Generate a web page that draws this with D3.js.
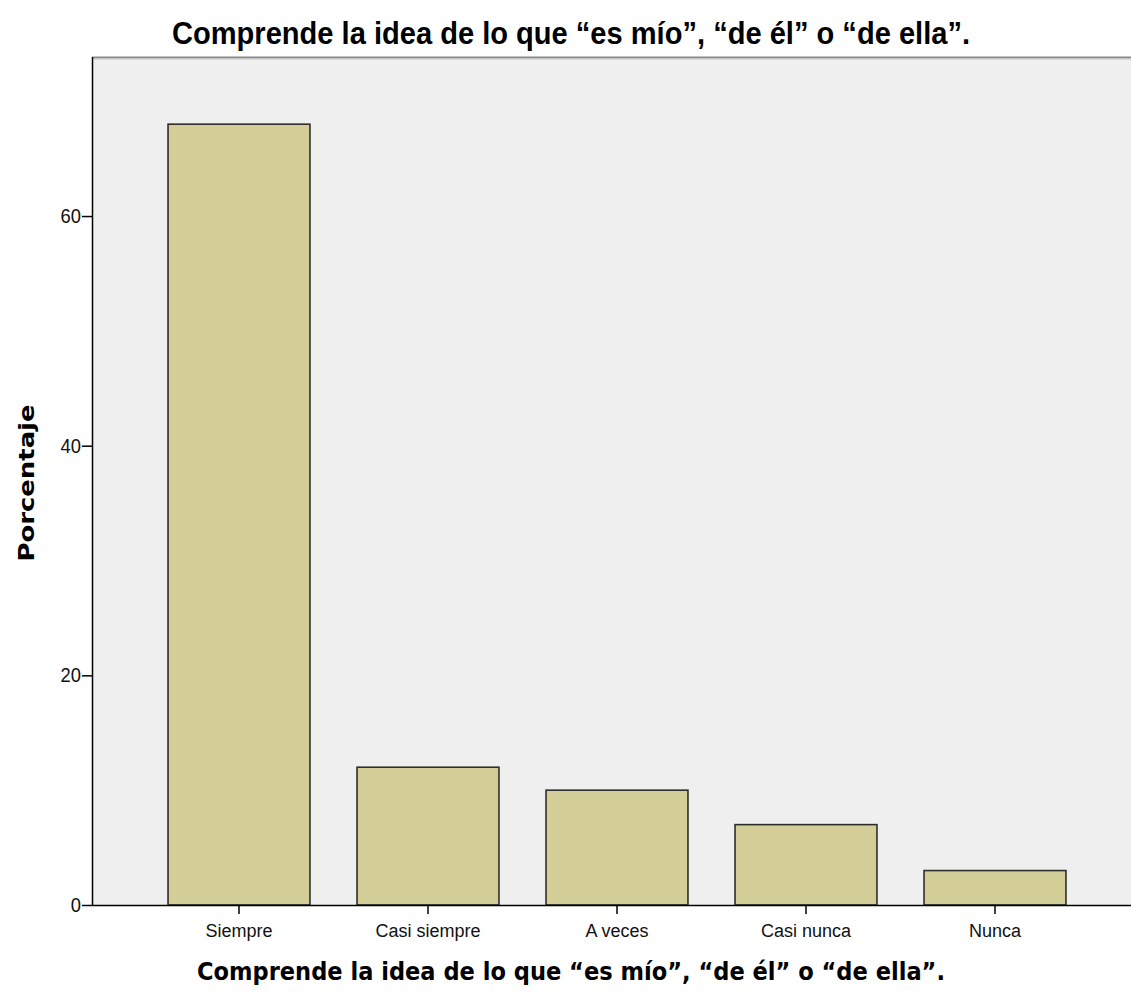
<!DOCTYPE html>
<html>
<head>
<meta charset="utf-8">
<script src="https://cdn.jsdelivr.net/npm/d3@7/dist/d3.min.js"></script>
<style>
  html, body { margin: 0; padding: 0; background: #ffffff; }
  svg { display: block; }
</style>
</head>
<body>
<script>
const categories = ["Siempre", "Casi siempre", "A veces", "Casi nunca", "Nunca"];
const values = [68, 12, 10, 7, 3];
const yTicks = [0, 20, 40, 60];
const chartTitle = "Comprende la idea de lo que “es mío”, “de él” o “de ella”.";
const xTitle = "Comprende la idea de lo que “es mío”, “de él” o “de ella”.";
const yTitle = "Porcentaje";

const W = 1131, H = 998;
const plot = { left: 92, top: 57, right: 1131, bottom: 905 };

const svg = d3.select("body").append("svg").attr("width", W).attr("height", H);

const y = d3.scaleLinear().domain([0, 73.85]).range([plot.bottom, plot.top]);
const x = d3.scaleBand().domain(categories).range([144.5, 1089.5])
  .paddingInner(0.249).paddingOuter(0.1245);

// plot background
svg.append("rect").attr("x", plot.left).attr("y", plot.top)
  .attr("width", plot.right - plot.left).attr("height", plot.bottom - plot.top)
  .attr("fill", "#efefef");

// top border (shaded gray)
svg.append("line").attr("x1", plot.left).attr("x2", plot.right)
  .attr("y1", plot.top + 0.5).attr("y2", plot.top + 0.5)
  .attr("stroke", "#8a8a8a").attr("stroke-width", 2);
svg.append("line").attr("x1", plot.left).attr("x2", plot.right)
  .attr("y1", plot.top + 2).attr("y2", plot.top + 2)
  .attr("stroke", "#c8c8c8").attr("stroke-width", 1);

// bars
svg.append("g").selectAll("rect").data(values).join("rect")
  .attr("x", (d, i) => x(categories[i]))
  .attr("y", d => y(d))
  .attr("width", x.bandwidth())
  .attr("height", d => y(0) - y(d))
  .attr("fill", "#d3ce97")
  .attr("stroke", "#2e2e2a")
  .attr("stroke-width", 1.6);

// y axis
const yAxis = d3.axisLeft(y).tickValues(yTicks).tickSize(10).tickPadding(2).tickFormat(d3.format("d"));
const gy = svg.append("g").attr("transform", `translate(${plot.left},0)`).call(yAxis);
gy.select(".domain").attr("d", `M0.5,${plot.top}V${plot.bottom}`).attr("stroke", "#000").attr("stroke-width", 1.5);
gy.selectAll(".tick line").attr("stroke", "#000").attr("stroke-width", 1.5);
gy.selectAll(".tick text").attr("font-family", "Liberation Sans, Arial, sans-serif")
  .attr("font-size", 20).attr("fill", "#111")
  .attr("transform", "scale(0.92,1)");

// x axis
const xAxis = d3.axisBottom(x).tickSize(9).tickPadding(10);
const gx = svg.append("g").attr("transform", `translate(0,${plot.bottom})`).call(xAxis);
gx.select(".domain").attr("d", `M${plot.left},0.5H${plot.right}`).attr("stroke", "#000").attr("stroke-width", 1.5);
gx.selectAll(".tick line").attr("stroke", "#000").attr("stroke-width", 1.5);
gx.selectAll(".tick text").attr("font-family", "Liberation Sans, Arial, sans-serif")
  .attr("font-size", 18).attr("fill", "#111");

// titles
svg.append("text").attr("x", 571).attr("y", 44).attr("text-anchor", "middle")
  .attr("font-family", "Liberation Sans, Arial, sans-serif").attr("font-weight", "bold")
  .attr("font-size", 31).attr("fill", "#000")
  .attr("textLength", 798).attr("lengthAdjust", "spacingAndGlyphs")
  .text(chartTitle);

svg.append("text").attr("x", 571).attr("y", 980).attr("text-anchor", "middle")
  .attr("font-family", "DejaVu Sans, sans-serif").attr("font-weight", "bold")
  .attr("font-size", 25).attr("fill", "#000")
  .attr("textLength", 748).attr("lengthAdjust", "spacingAndGlyphs")
  .text(xTitle);

svg.append("text").attr("transform", "translate(34,483) rotate(-90)").attr("text-anchor", "middle")
  .attr("font-family", "DejaVu Sans, sans-serif").attr("font-weight", "bold")
  .attr("font-size", 22).attr("fill", "#000")
  .attr("textLength", 157).attr("lengthAdjust", "spacingAndGlyphs")
  .text(yTitle);
</script>
</body>
</html>
